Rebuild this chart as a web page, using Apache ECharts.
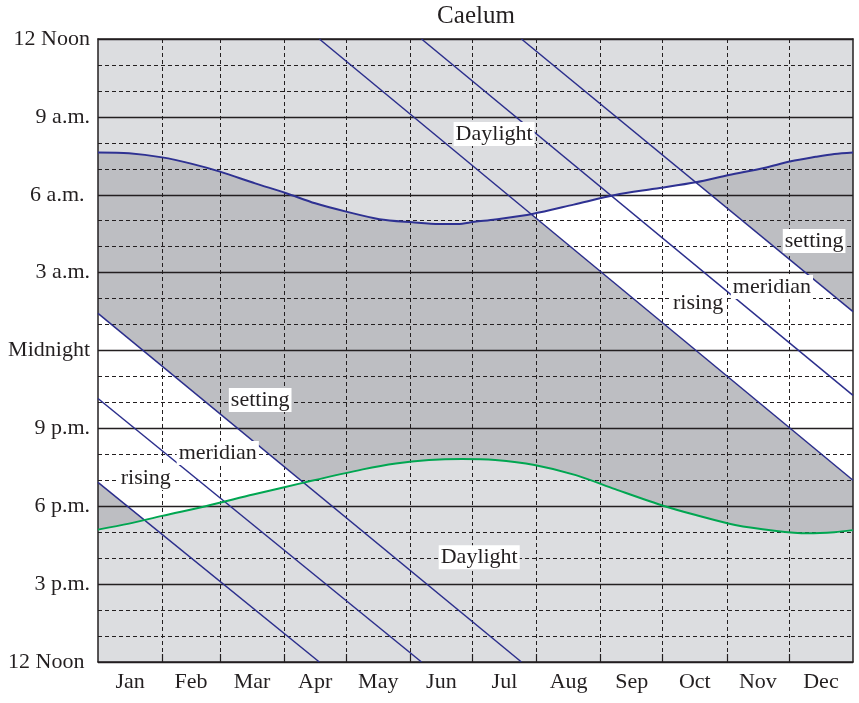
<!DOCTYPE html>
<html><head><meta charset="utf-8">
<script src="https://cdn.jsdelivr.net/npm/echarts@6/dist/echarts.min.js"></script>
<style>html,body{margin:0;padding:0;background:#fff}#c{width:859px;height:703px}</style>
</head><body><div id="c"></div>
<script>
// ---- data ----
const months = ['Jan','Feb','Mar','Apr','May','Jun','Jul','Aug','Sep','Oct','Nov','Dec'];
const monthDays = [31,28,31,30,31,30,31,31,30,31,30,31];
// y value = hours after noon (0 = 12 Noon bottom, 24 = 12 Noon top)
const hourLabels = ['12 Noon ','3 p.m.','6 p.m.','9 p.m.','Midnight','3 a.m.','6 a.m. ','9 a.m.','12 Noon'];
// sunrise (blue curve)  [day of year, hours after noon]
const sunrise = [[0,19.63],[15,19.6],[31,19.44],[45,19.2],[59,18.89],[76,18.44],[91,18.06],[105,17.67],[120,17.35],[136,17.06],[152,16.94],[165,16.87],[174,16.87],[182,16.96],[192,17.05],[210,17.26],[230,17.62],[250,17.99],[269,18.23],[289,18.48],[305,18.76],[322,19.03],[335,19.29],[347,19.46],[356,19.57],[365,19.63]];
// sunset (green curve)
const sunset = [[0,5.1],[15,5.33],[31,5.63],[52,6.0],[75,6.45],[100,6.92],[128,7.42],[144,7.65],[160,7.78],[176,7.82],[192,7.78],[211,7.59],[231,7.2],[250,6.66],[274,6.0],[289,5.66],[308,5.28],[327,5.06],[343,4.96],[356,5.0],[365,5.08]];
// star lines (wrapping at noon)
const risingLow = [[0,6.92],[107,0]];
const risingUp = [[107,24],[365,7.0]];
const meridianLow = [[0,10.15],[156.4,0]];
const meridianUp = [[156.4,24],[365,10.27]];
const settingLow = [[0,13.43],[204.7,0]];
const settingUp = [[204.7,24],[365,13.5]];
// text labels
const labelText = ['Daylight','Daylight','setting','setting','meridian','meridian','rising','rising'];
const labelPos = [[191.5,20.34],[184.3,4.04],[78.4,10.09],[346.2,16.22],[57.9,8.05],[325.8,14.45],[23.1,7.09],[290.1,13.83]];

// ---- derived ticks ----
const monthEdges = [], monthMids = [];
let acc = 0;
monthDays.forEach((d,i)=>{ monthMids.push(acc + d/2); acc += d; if (i < 11) monthEdges.push(acc); });

const FONT = "'Liberation Serif','Times New Roman',serif";
const INK = '#231f20';
const NIGHT = '#bdbec2', DAY = '#dcdde0', STAR = '#ffffff';
const NAVY = '#2b2e8c';

function area(data, origin, color, smooth) {
  return {type:'line', data, symbol:'none', silent:true, smooth: smooth || false,
    lineStyle:{width:0}, areaStyle:{color, opacity:1, origin}, z:1};
}
function stroke(data, color, width, smooth) {
  return {type:'line', data, symbol:'none', silent:true, smooth: smooth || false,
    lineStyle:{color, width}, z:3};
}

const chart = echarts.init(document.getElementById('c'), null, {renderer:'canvas'});
chart.setOption({
  animation:false,
  backgroundColor:'#fff',
  title:{text:'Caelum', left:476, top:4, padding:0, textAlign:'center',
    textStyle:{fontFamily:FONT, fontSize:25, fontWeight:'normal', color:INK}},
  grid:{left:98, right:6, top:39, bottom:41, show:true, backgroundColor:NIGHT, borderWidth:0},
  xAxis:[{
    type:'value', min:0, max:365, position:'bottom', z:2,
    axisLine:{show:true, onZero:false, lineStyle:{color:INK, width:1.5}},
    axisTick:{show:true, inside:true, length:8, customValues:monthEdges, lineStyle:{color:INK, width:1.2}},
    axisLabel:{customValues:monthMids, margin:9, formatter:(v)=>months[monthMids.indexOf(v)],
      fontFamily:FONT, fontSize:22, color:INK},
    splitLine:{show:true, lineStyle:{type:[4,3], color:INK, width:1}}
  },{
    type:'value', min:0, max:365, position:'top', z:2,
    axisLine:{show:true, onZero:false, lineStyle:{color:INK, width:1.5}},
    axisTick:{show:false}, axisLabel:{show:false}, splitLine:{show:false}
  }],
  yAxis:[{
    type:'value', min:0, max:24, interval:3, z:2,
    axisLine:{show:true, onZero:false, lineStyle:{color:INK, width:1.5}},
    axisTick:{show:false},
    axisLabel:{margin:8, formatter:(v)=>hourLabels[Math.round(v/3)], fontFamily:FONT, fontSize:22, color:INK},
    splitLine:{show:true, lineStyle:{color:INK, width:1.3}},
    minorTick:{show:false, splitNumber:3},
    minorSplitLine:{show:true, lineStyle:{type:[4,3], color:INK, width:1}}
  },{
    type:'value', min:0, max:24, position:'right', z:2,
    axisLine:{show:true, onZero:false, lineStyle:{color:INK, width:1.5}},
    axisTick:{show:false}, axisLabel:{show:false}, splitLine:{show:false}
  }],
  series:[
    area(settingLow, 'start', STAR),
    area(risingLow, 'start', NIGHT),
    area(risingUp, 'end', STAR),
    area(settingUp, 'end', NIGHT),
    area(sunrise, 'end', DAY, 0.3),
    area(sunset, 'start', DAY, 0.3),
    stroke(risingLow, NAVY, 1.5), stroke(risingUp, NAVY, 1.5),
    stroke(meridianLow, NAVY, 1.5), stroke(meridianUp, NAVY, 1.5),
    stroke(settingLow, NAVY, 1.5), stroke(settingUp, NAVY, 1.5),
    stroke(sunrise, '#2e3192', 2, 0.3),
    stroke(sunset, '#00a651', 2, 0.3),
    {type:'scatter', symbolSize:0, silent:true, z:5,
      itemStyle:{opacity:1},
      data: labelPos.map((p,i)=>({value:p, name:labelText[i]})),
      label:{show:true, position:'inside', formatter:'{b}', fontFamily:FONT, fontSize:22, color:INK,
        opacity:1, backgroundColor:'#ffffff', padding:[1,2]}}
  ]
});
</script></body></html>
